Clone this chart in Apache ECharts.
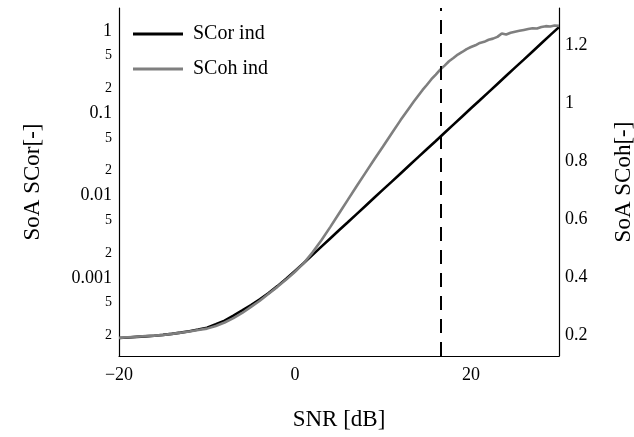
<!DOCTYPE html>
<html>
<head>
<meta charset="utf-8">
<script src="https://cdn.jsdelivr.net/npm/echarts@6/dist/echarts.min.js"></script>
<style>
html,body{margin:0;padding:0;background:#fff;}
#chart{width:634px;height:437px;}
</style>
</head>
<body>
<div id="chart"></div>
<script>
// SNR 轴 (dB)
var snr = [-20,-19,-18,-17,-16,-15,-14,-13,-12,-11,-10,-9,-8,-7,-6,-5,-4,-3,-2,-1,
    0,1,2,3,4,5,6,7,8,9,10,11,12,13,14,15,16,17,18,19,20,21,22,23,24,25,26,27,28,29,30];

// SCor ind (左轴, 对数)
var scor = [1.862e-4,1.888e-4,1.919e-4,1.950e-4,1.986e-4,2.032e-4,2.089e-4,2.163e-4,2.249e-4,2.355e-4,
    2.483e-4,2.735e-4,3.020e-4,3.483e-4,4.027e-4,4.677e-4,5.495e-4,6.531e-4,7.943e-4,9.772e-4,
    1.216e-3,1.514e-3,1.905e-3,2.399e-3,3.013e-3,3.784e-3,4.742e-3,5.957e-3,7.482e-3,9.397e-3,
    0.01180,0.01479,0.01858,0.02333,0.02931,0.03681,0.04613,0.05794,0.07278,0.09141,
    0.1148,0.1439,0.1807,0.2270,0.2851,0.3581,0.4487,0.5636,0.7079,0.8892,1.114];

// SCoh ind 的 SNR (高 SNR 段更密, 曲线有抖动)
var snrCoh = [-20,-19,-18,-17,-16,-15,-14,-13,-12,-11,-10,-9,-8,-7,-6,-5,-4,-3,-2,-1,
    0,1,2,3,4,5,6,7,8,9,10,11,12,13,13.5,14,14.5,15,15.5,16,16.5,17,17.5,18,18.5,19,19.5,
    20,20.5,21,21.5,22,22.5,23,23.5,24,24.5,25,25.5,26,26.5,27,27.5,28,28.5,29,29.5,30];

// SCoh ind (右轴)
var scoh = [0.190,0.192,0.194,0.196,0.198,0.200,0.204,0.208,0.212,0.217,
    0.222,0.231,0.243,0.258,0.276,0.297,0.318,0.342,0.366,0.391,
    0.418,0.448,0.485,0.527,0.572,0.619,0.666,0.713,0.759,0.805,
    0.850,0.896,0.941,0.984,1.005,1.025,1.045,1.063,1.082,1.098,1.115,1.129,1.144,1.155,1.167,1.176,1.186,
    1.193,1.199,1.207,1.211,1.218,1.222,1.228,1.240,1.236,1.242,1.246,1.249,1.252,1.255,1.258,1.257,1.262,1.265,1.264,1.267,1.266];

var seriesNames = ['SCor ind', 'SCoh ind'];
var xTicks = [-20, 0, 20];
var leftTicks = [2e-4,5e-4,1e-3,2e-3,5e-3,0.01,0.02,0.05,0.1,0.2,0.5,1];
var rightTicks = [0.2,0.4,0.6,0.8,1,1.2];
var threshold = 16.6;

var font = '"Liberation Serif", "Times New Roman", serif';

function pairs(xs, ys){
    var out = [];
    for(var i=0;i<xs.length;i++){ out.push([xs[i], ys[i]]); }
    return out;
}

var myChart = echarts.init(document.getElementById('chart'));
var option = {
    animation: false,
    backgroundColor: '#fff',
    textStyle: {fontFamily: font},
    grid: {left: 119, right: 75, top: 8, bottom: 81, containLabel: false, outerBoundsMode: 'none'},
    legend: {
        orient: 'vertical',
        left: 128, top: 19,
        itemWidth: 50, itemHeight: 3, itemGap: 15,
        icon: 'rect',
        data: seriesNames,
        textStyle: {fontFamily: font, fontSize: 20, color: '#000', padding: [0,0,0,5]}
    },
    xAxis: {
        type: 'value', min: -20, max: 30,
        name: 'SNR [dB]', nameLocation: 'middle', nameGap: 52,
        nameTextStyle: {fontFamily: font, fontSize: 23, color: '#000'},
        axisLine: {onZero: false, lineStyle: {color: '#000', width: 1.2}},
        axisTick: {show: false},
        splitLine: {show: false},
        axisLabel: {
            customValues: xTicks, margin: 10,
            fontFamily: font, fontSize: 18, color: '#000',
            formatter: function(v){ return String(v).replace('-', '\u2212'); }
        }
    },
    yAxis: [{
        type: 'log', logBase: 10, min: 1.125e-4, max: 1.9,
        name: 'SoA SCor[-]', nameLocation: 'middle', nameGap: 75, nameRotate: 90,
        nameTextStyle: {fontFamily: font, fontSize: 23, color: '#000'},
        axisLine: {show: true, onZero: false, lineStyle: {color: '#000', width: 1.2}},
        axisTick: {show: false},
        splitLine: {show: false},
        axisLabel: {
            customValues: leftTicks, margin: 7,
            fontFamily: font, color: '#000',
            formatter: function(v){
                var e = Math.floor(Math.log10(v) + 1e-9);
                var m = Math.round(v / Math.pow(10, e));
                if(m === 1){
                    var s = e >= 0 ? '1' : '0.' + new Array(-e).join('0') + '1';
                    return '{big|' + s + '}';
                }
                return '{small|' + m + '}';
            },
            rich: {
                big: {fontFamily: font, fontSize: 18, color: '#000'},
                small: {fontFamily: font, fontSize: 14, color: '#000'}
            }
        }
    }, {
        type: 'value', min: 0.1276, max: 1.3276, position: 'right',
        name: 'SoA SCoh[-]', nameLocation: 'middle', nameGap: 53, nameRotate: 90,
        nameTextStyle: {fontFamily: font, fontSize: 23, color: '#000'},
        axisLine: {show: true, onZero: false, lineStyle: {color: '#000', width: 1.2}},
        axisTick: {show: false},
        splitLine: {show: false},
        axisLabel: {
            customValues: rightTicks, margin: 6,
            fontFamily: font, fontSize: 18, color: '#000'
        }
    }],
    series: [{
        name: seriesNames[0], type: 'line', yAxisIndex: 0,
        data: pairs(snr, scor), showSymbol: false, symbol: 'none',
        lineStyle: {color: '#000', width: 2.6}, itemStyle: {color: '#000'},
        markLine: {
            silent: true, symbol: 'none', label: {show: false},
            lineStyle: {color: '#000', width: 2, type: [14, 9]},
            data: [{xAxis: threshold}]
        }
    }, {
        name: seriesNames[1], type: 'line', yAxisIndex: 1,
        data: pairs(snrCoh, scoh), showSymbol: false, symbol: 'none',
        lineStyle: {color: '#7f7f7f', width: 2.6}, itemStyle: {color: '#7f7f7f'}
    }]
};
myChart.setOption(option);
</script>
</body>
</html>
